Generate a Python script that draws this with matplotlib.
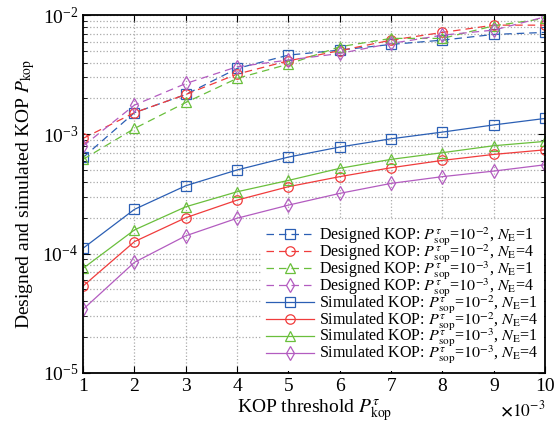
import numpy as np
import matplotlib
matplotlib.use('Agg')
import matplotlib.pyplot as plt
from matplotlib.ticker import LogLocator, NullFormatter

plt.rcParams['font.family'] = ['Liberation Serif', 'DejaVu Serif']
plt.rcParams['mathtext.fontset'] = 'stix'

# KOP threshold in units of 1e-3
thr = np.arange(1, 11)

# designed KOP (dashed)
des_1e2_n1 = [6.4e-4, 1.52e-3, 2.16e-3, 3.57e-3, 4.62e-3, 5.09e-3, 5.68e-3, 6.17e-3, 6.89e-3, 7.16e-3]
des_1e2_n4 = [9.25e-4, 1.52e-3, 2.16e-3, 3.2e-3, 4.14e-3, 5.03e-3, 6.17e-3, 7.16e-3, 8.24e-3, 8.24e-3]
des_1e3_n1 = [6.17e-4, 1.12e-3, 1.85e-3, 2.95e-3, 3.88e-3, 5.43e-3, 6.38e-3, 6.38e-3, 8.14e-3, 9.38e-3]
des_1e3_n4 = [7.98e-4, 1.76e-3, 2.67e-3, 3.69e-3, 4.2e-3, 4.77e-3, 5.79e-3, 6.79e-3, 7.49e-3, 9.68e-3]

# simulated KOP (solid)
sim_1e2_n1 = [1.11e-4, 2.35e-4, 3.71e-4, 5.03e-4, 6.45e-4, 7.83e-4, 9.18e-4, 1.045e-3, 1.2e-3, 1.36e-3]
sim_1e2_n4 = [5.35e-5, 1.26e-4, 2.0e-4, 2.81e-4, 3.64e-4, 4.42e-4, 5.25e-4, 6.05e-4, 6.79e-4, 7.42e-4]
sim_1e3_n1 = [7.53e-5, 1.58e-4, 2.47e-4, 3.3e-4, 4.11e-4, 5.19e-4, 6.17e-4, 7.02e-4, 8.03e-4, 8.73e-4]
sim_1e3_n4 = [3.41e-5, 8.45e-5, 1.41e-4, 1.98e-4, 2.55e-4, 3.2e-4, 3.88e-4, 4.42e-4, 4.92e-4, 5.56e-4]

blue = '#2b5fb4'
red = '#f03c3c'
green = '#6abf3c'
purple = '#b35cc0'

fig = plt.figure(figsize=(5.58, 4.32), dpi=100)
ax = fig.add_axes([0.149, 0.137, 0.828, 0.828])

mk = dict(markersize=6.8, markerfacecolor='none', linewidth=0.9, markeredgewidth=0.9)
dash = (0, (6, 4))

ax.plot(thr, des_1e2_n1, color=blue, marker='s', linestyle=dash,
        label=r'Designed KOP: $P^{\tau}_{\rm sop}$=$10^{-2}$, $N_{\rm E}$=1', **mk)
ax.plot(thr, des_1e2_n4, color=red, marker='o', linestyle=dash,
        label=r'Designed KOP: $P^{\tau}_{\rm sop}$=$10^{-2}$, $N_{\rm E}$=4', **mk)
ax.plot(thr, des_1e3_n1, color=green, marker='^', linestyle=dash,
        label=r'Designed KOP: $P^{\tau}_{\rm sop}$=$10^{-3}$, $N_{\rm E}$=1', **mk)
ax.plot(thr, des_1e3_n4, color=purple, marker='d', linestyle=dash,
        label=r'Designed KOP: $P^{\tau}_{\rm sop}$=$10^{-3}$, $N_{\rm E}$=4', **mk)
ax.plot(thr, sim_1e2_n1, color=blue, marker='s', linestyle='-',
        label=r'Simulated KOP: $P^{\tau}_{\rm sop}$=$10^{-2}$, $N_{\rm E}$=1', **mk)
ax.plot(thr, sim_1e2_n4, color=red, marker='o', linestyle='-',
        label=r'Simulated KOP: $P^{\tau}_{\rm sop}$=$10^{-2}$, $N_{\rm E}$=4', **mk)
ax.plot(thr, sim_1e3_n1, color=green, marker='^', linestyle='-',
        label=r'Simulated KOP: $P^{\tau}_{\rm sop}$=$10^{-3}$, $N_{\rm E}$=1', **mk)
ax.plot(thr, sim_1e3_n4, color=purple, marker='d', linestyle='-',
        label=r'Simulated KOP: $P^{\tau}_{\rm sop}$=$10^{-3}$, $N_{\rm E}$=4', **mk)

ax.set_yscale('log')
ax.set_xlim(1, 10)
ax.set_ylim(1e-5, 1e-2)
ax.set_xticks(thr)
ax.yaxis.set_minor_locator(LogLocator(base=10, subs=np.arange(2, 10)))
ax.yaxis.set_minor_formatter(NullFormatter())

ax.grid(True, which='major', linestyle=':', color='#aaaaaa', linewidth=0.9)
ax.grid(True, which='minor', axis='y', linestyle=':', color='#aaaaaa', linewidth=0.9)
ax.tick_params(which='both', direction='in', top=True, right=True, labelsize=14)
ax.tick_params(which='major', length=5)
ax.tick_params(which='minor', length=3)
for s in ax.spines.values():
    s.set_linewidth(1.3)

ax.set_xlabel(r'KOP threshold $P^{\tau}_{\rm kop}$', fontsize=14, labelpad=2)
ax.set_ylabel(r'Designed and simulated KOP $P_{\rm kop}$', fontsize=14, labelpad=4)
ax.text(1.0, -0.078, r'$\mathbf{\times}10^{-3}$', transform=ax.transAxes,
        ha='right', va='top', fontsize=12.5)

leg = ax.legend(loc='lower right', fontsize=11.5, labelspacing=-0.36, handlelength=3.0,
                handletextpad=0.3, borderaxespad=0.1, borderpad=0.3, frameon=True,
                fancybox=False, edgecolor='none', framealpha=1)

fig.savefig('out.png', dpi=100)
